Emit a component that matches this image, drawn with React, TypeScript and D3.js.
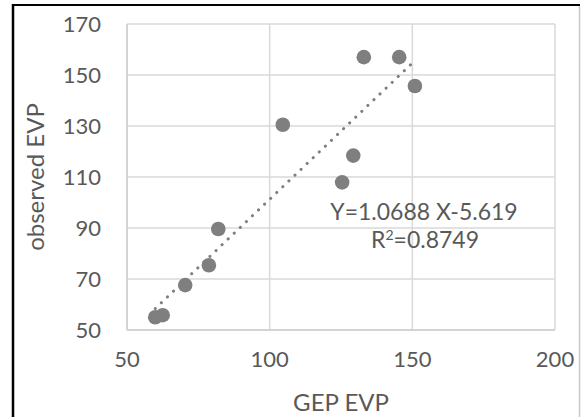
import React from "react";
import * as d3 from "d3";

const gepEVP = [104.6, 133, 145.4, 150.9, 129.3, 125.4, 82, 78.7, 70.4, 59.9, 62.5];
const observedEVP = [130.5, 157, 157, 145.7, 118.4, 107.9, 89.6, 75.4, 67.6, 55, 55.8];
const xTicks = [50, 100, 150, 200];
const yTicks = [50, 70, 90, 110, 130, 150, 170];
const slope = 1.0688;
const intercept = -5.619;
const equationText = "Y=1.0688 X-5.619";
const r2Label = "0.8749";

const W = 581;
const H = 417;
const FONT = "Lato, 'Open Sans', sans-serif";
const TEXT = "#595959";

export default function App() {
  const x = d3.scaleLinear().domain([50, 200]).range([127, 555]);
  const y = d3.scaleLinear().domain([50, 170]).range([330, 24]);
  const xMin = d3.min(gepEVP) as number;
  const xMax = d3.max(gepEVP) as number;
  const trend = d3
    .line<number>()
    .x((d) => x(d))
    .y((d) => y(slope * d + intercept))([xMin, xMax]) as string;

  return (
    <svg
      width={W}
      height={H}
      style={{ position: "absolute", left: 0, top: 0, background: "#fff" }}
    >
      <rect x={0} y={0} width={W} height={H} fill="#fff" />
      {/* outer frame */}
      <line x1={13} y1={5} x2={580} y2={5} stroke="#000" strokeWidth={2} />
      <line x1={13} y1={4} x2={13} y2={H} stroke="#000" strokeWidth={2.5} />
      <line x1={579.5} y1={6} x2={579.5} y2={H} stroke="#c8c8c8" strokeWidth={1.5} />

      {/* grid */}
      {yTicks.map((t) => (
        <line key={"gy" + t} x1={x(50)} x2={x(200)} y1={y(t)} y2={y(t)} stroke="#d9d9d9" strokeWidth={1.5} />
      ))}
      {xTicks.map((t) => (
        <line key={"gx" + t} x1={x(t)} x2={x(t)} y1={y(50)} y2={y(170)} stroke="#d9d9d9" strokeWidth={1.5} />
      ))}
      <line x1={x(50)} x2={x(200)} y1={y(50)} y2={y(50)} stroke="#cfcfcf" strokeWidth={1.5} />
      <line x1={x(50)} x2={x(50)} y1={y(50)} y2={y(170)} stroke="#cfcfcf" strokeWidth={1.5} />

      {/* tick labels */}
      {yTicks.map((t) => (
        <text key={"ty" + t} x={101} y={y(t)} dy="0.35em" textAnchor="end" fontFamily={FONT} fontSize={22} fill={TEXT}>
          {t}
        </text>
      ))}
      {xTicks.map((t) => (
        <text key={"tx" + t} x={x(t)} y={367} textAnchor="middle" fontFamily={FONT} fontSize={22} fill={TEXT}>
          {t}
        </text>
      ))}

      {/* axis titles */}
      <text x={x(125)} y={411} textAnchor="middle" fontFamily={FONT} fontSize={24} fill={TEXT}>
        GEP EVP
      </text>
      <text
        transform={`translate(44, ${(y(50) + y(170)) / 2}) rotate(-90)`}
        textAnchor="middle"
        fontFamily={FONT}
        fontSize={24}
        fill={TEXT}
      >
        observed EVP
      </text>

      {/* points */}
      {gepEVP.map((v, i) => (
        <circle key={"p" + i} cx={x(v)} cy={y(observedEVP[i])} r={7.3} fill="#7f7f7f" />
      ))}

      {/* trendline */}
      <path d={trend} fill="none" stroke="#7f7f7f" strokeWidth={3} strokeDasharray="0.1 8.3" strokeLinecap="round" />

      {/* equation */}
      <text x={424} y={220} textAnchor="middle" fontFamily={FONT} fontSize={23} fill={TEXT}>
        {equationText}
      </text>
      <text x={425} y={248} textAnchor="middle" fontFamily={FONT} fontSize={23} fill={TEXT}>
        R<tspan fontSize={14} dy={-8}>2</tspan>
        <tspan dy={8}>={r2Label}</tspan>
      </text>
    </svg>
  );
}
